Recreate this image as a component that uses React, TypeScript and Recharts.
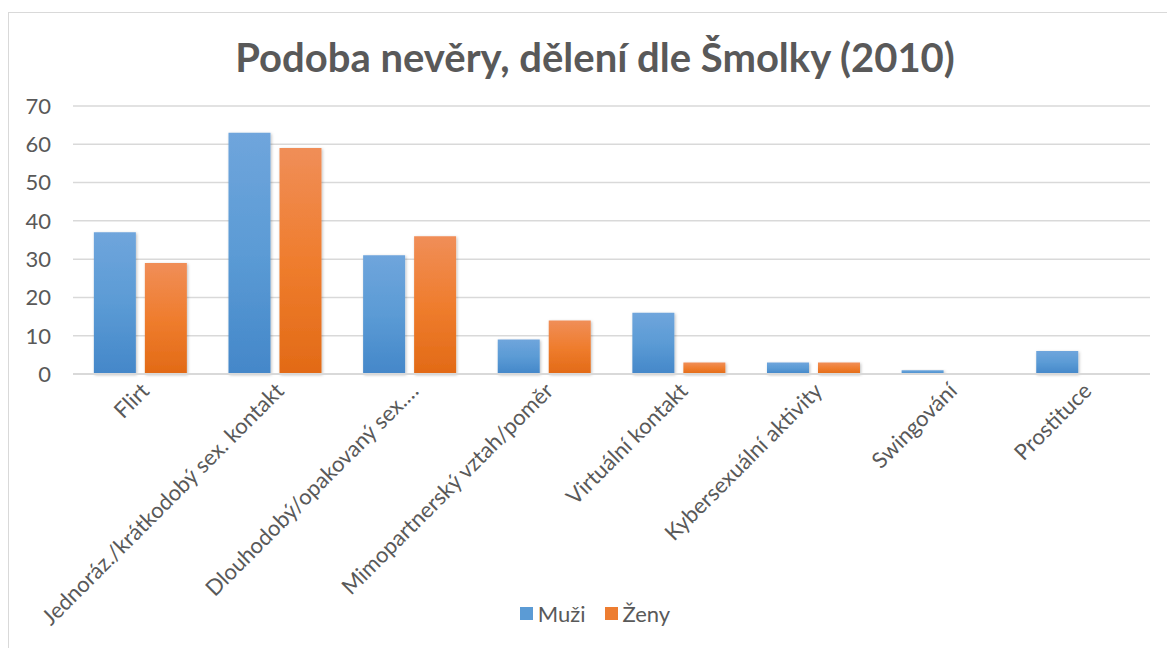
import * as React from "react";
import { Bar, BarChart, CartesianGrid, Legend, XAxis, YAxis } from "recharts";

const categories = [
  "Flirt",
  "Jednoráz./krátkodobý sex. kontakt",
  "Dlouhodobý/opakovaný sex.…",
  "Mimopartnerský vztah/poměr",
  "Virtuální kontakt",
  "Kybersexuální aktivity",
  "Swingování",
  "Prostituce",
];
const muzi = [37, 63, 31, 9, 16, 3, 1, 6];
const zeny = [29, 59, 36, 14, 3, 3, 0, 0];
const yTicks = [0, 10, 20, 30, 40, 50, 60, 70];

const data = categories.map((name, i) => ({ name, muzi: muzi[i], zeny: zeny[i] }));

const FONT = "Lato, 'Open Sans', sans-serif";
const TEXT = "#595959";

function AngledTick({ x, y, payload }: any) {
  return (
    <g transform={`translate(${x + 4},${y + 4})`}>
      <text
        transform="rotate(-45)"
        textAnchor="end"
        dy={9}
        fontFamily={FONT}
        fontSize={22}
        fill={TEXT}
      >
        {payload.value}
      </text>
    </g>
  );
}

function ChartLegend() {
  const items = [
    { label: "Muži", color: "#5b9bd5" },
    { label: "Ženy", color: "#ed7d31" },
  ];
  return (
    <div style={{ display: "flex", justifyContent: "center", gap: 19, fontFamily: FONT, fontSize: 22, color: TEXT }}>
      {items.map((it) => (
        <div key={it.label} style={{ display: "flex", alignItems: "center", gap: 5 }}>
          <span style={{ width: 13, height: 13, background: it.color, display: "inline-block" }} />
          <span>{it.label}</span>
        </div>
      ))}
    </div>
  );
}

export default function App() {
  return (
    <div style={{ position: "fixed", left: 0, top: 0, width: 1167, height: 648, background: "#fff", overflow: "hidden" }}>
      <div
        style={{
          position: "absolute",
          left: 8,
          top: 12,
          width: 1180,
          height: 660,
          border: "1px solid #d9d9d9",
          boxSizing: "border-box",
        }}
      />
      <div
        style={{
          position: "absolute",
          left: 0,
          top: 33,
          width: 1190,
          textAlign: "center",
          fontFamily: FONT,
          fontWeight: 700,
          fontSize: 40,
          color: TEXT,
        }}
      >
        Podoba nevěry, dělení dle Šmolky (2010)
      </div>
      <div style={{ position: "absolute", left: 0, top: 0 }}>
        <BarChart
          width={1167}
          height={648}
          data={data}
          margin={{ top: 106, right: 17, left: 8, bottom: 0 }}
          barCategoryGap="15.5%"
          barGap={9}
        >
          <defs>
            <linearGradient id="gBlue" x1="0" y1="0" x2="0" y2="1">
              <stop offset="0%" stopColor="#6fa5dc" />
              <stop offset="50%" stopColor="#5b9bd5" />
              <stop offset="100%" stopColor="#4487c9" />
            </linearGradient>
            <linearGradient id="gOrange" x1="0" y1="0" x2="0" y2="1">
              <stop offset="0%" stopColor="#f08e58" />
              <stop offset="50%" stopColor="#ef7d2e" />
              <stop offset="100%" stopColor="#e26a16" />
            </linearGradient>
            <filter id="shadow" x="-20%" y="-20%" width="140%" height="140%">
              <feDropShadow dx="1" dy="1" stdDeviation="1.5" floodColor="#000" floodOpacity="0.25" />
            </filter>
          </defs>
          <CartesianGrid vertical={false} stroke="#d9d9d9" strokeWidth={1.5} />
          <XAxis
            dataKey="name"
            interval={0}
            height={234}
            tickLine={false}
            axisLine={{ stroke: "#d9d9d9", strokeWidth: 2 }}
            tick={<AngledTick />}
          />
          <YAxis
            width={65}
            domain={[0, 70]}
            ticks={yTicks}
            tickLine={false}
            axisLine={false}
            tickMargin={16}
            tick={{ fontFamily: FONT, fontSize: 22, fill: TEXT }}
          />
          <Legend verticalAlign="bottom" height={40} content={<ChartLegend />} wrapperStyle={{ left: 0, width: 1190, bottom: 8 }} />
          <Bar dataKey="muzi" name="Muži" fill="url(#gBlue)" filter="url(#shadow)" isAnimationActive={false} />
          <Bar dataKey="zeny" name="Ženy" fill="url(#gOrange)" filter="url(#shadow)" isAnimationActive={false} />
        </BarChart>
      </div>
    </div>
  );
}
